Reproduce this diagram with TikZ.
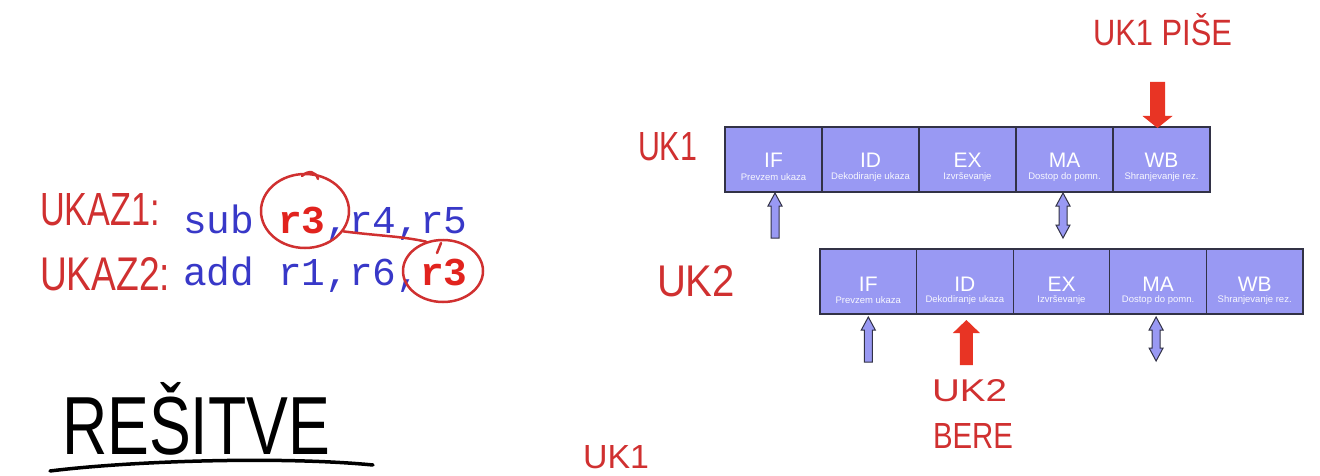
\documentclass[tikz,border=0pt]{standalone}
\usepackage{fontspec}
\setmainfont{Liberation Sans}
\newfontfamily\codefont{Liberation Mono}
\newfontfamily\handfont{Liberation Sans}
\usetikzlibrary{shapes.geometric}
\definecolor{cellblue}{RGB}{153,153,243}
\definecolor{celledge}{RGB}{50,50,70}
\definecolor{inkred}{RGB}{208,48,48}
\definecolor{arrowred}{RGB}{232,52,36}
\definecolor{codeblue}{RGB}{56,56,200}
\definecolor{codered}{RGB}{225,35,30}
\newcommand\handtext[3]{\resizebox{#1}{#2}{\handfont #3}}
\begin{document}
\begin{tikzpicture}[x=1pt,y=-1pt,
  cell/.style={draw=celledge, line width=1.2pt, fill=cellblue, minimum width=97pt, minimum height=65pt, inner sep=0pt, outer sep=0pt},
  stagetitle/.style={text=white, font=\fontsize{21}{21}\selectfont, inner sep=0pt},
  stagesub/.style={text=white!92!cellblue, font=\fontsize{9.5}{10}\selectfont, inner sep=0pt},
  bluearrow/.style={draw=celledge, line width=1pt, fill=cellblue, line join=miter},
  redarrow/.style={fill=arrowred},
  hand/.style={inner sep=0pt, outer sep=0pt, anchor=south west},
  codeline/.style={inner sep=0pt, anchor=base west, text=codeblue, font=\codefont\fontsize{39.5}{40}\selectfont},
  ring/.style={ellipse, draw=inkred, line width=2.5pt, inner sep=0pt},
  ink/.style={draw=inkred, line width=2.5pt, line cap=round, line join=round}]
\useasboundingbox (0,0) rectangle (1320,476);
\fill[white] (0,0) rectangle (1320,476);

% pipeline row 1
\foreach \t/\s [count=\i] in {IF/Prevzem ukaza, ID/Dekodiranje ukaza, EX/Izvrševanje, MA/Dostop do pomn., WB/Shranjevanje rez.}{
  \node[cell] (a\i) at ({773.5+97*(\i-1)},159.5) {};
  \node[stagetitle] at ([yshift=-1pt]a\i.center) {\t};
  \node[stagesub] at ([yshift=-18pt]a\i.center) {\s};
}
% pipeline row 2
\foreach \t/\s [count=\i] in {IF/Prevzem ukaza, ID/Dekodiranje ukaza, EX/Izvrševanje, MA/Dostop do pomn., WB/Shranjevanje rez.}{
  \node[cell, minimum width=96.6pt] (b\i) at ({868.3+96.6*(\i-1)},281.5) {};
  \node[stagetitle] at ([yshift=-3pt]b\i.center) {\t};
  \node[stagesub] at ([yshift=-19pt]b\i.center) {\s};
}

% blue block arrows
\draw[bluearrow, shift={([xshift=1.5pt]a1.south)}] (0,1) -- (7,14) -- (4,14) -- (4,46) -- (-4,46) -- (-4,14) -- (-7,14) -- cycle;
\draw[bluearrow, shift={([xshift=-1.5pt]a4.south)}] (0,1) -- (7,14) -- (4,14) -- (4,33) -- (7,33) -- (0,46) -- (-7,33) -- (-4,33) -- (-4,14) -- (-7,14) -- cycle;
\draw[bluearrow, shift={(b1.south)}] (0,3) -- (7,16) -- (4,16) -- (4,48) -- (-4,48) -- (-4,16) -- (-7,16) -- cycle;
\draw[bluearrow, shift={([xshift=-2pt]b4.south)}] (0,3) -- (7,16) -- (4,16) -- (4,34) -- (7,34) -- (0,47) -- (-7,34) -- (-4,34) -- (-4,16) -- (-7,16) -- cycle;

% red block arrows
\fill[redarrow, shift={([xshift=-4pt]a5.north)}] (0,1) -- (15,-11) -- (7.5,-11) -- (7.5,-45) -- (-7.5,-45) -- (-7.5,-11) -- (-15,-11) -- cycle;
\fill[redarrow, shift={([xshift=1.5pt]b2.south)}] (0,6) -- (13.5,19) -- (6.5,19) -- (6.5,51) -- (-6.5,51) -- (-6.5,19) -- (-13.5,19) -- cycle;

% code
\node[codeline] (l1) at (183,233) {sub {\bfseries\color{codered}r3},r4,r5};
\node[codeline] (l2) at (183,285) {add r1,r6,{\bfseries\color{codered}r3}};

% red rings and link
\node[ring, minimum width=88pt, minimum height=74pt] (c1) at (305,211) {};
\node[ring, minimum width=80pt, minimum height=62pt] (c2) at (443,271) {};
\draw[ink] (c1.-28) .. controls (380,236) and (400,236) .. (c2.120);
\draw[ink] (302,176) .. controls (308,170) and (316,171) .. (318,179);
\draw[ink] (441,243) -- (437,253);

% handwritten labels
\node[hand, text=inkred] (u1) at (40,226) {\handtext{120pt}{32pt}{UKAZ1:}};
\node[hand, text=inkred] (u2) at (40,291) {\handtext{130pt}{33pt}{UKAZ2:}};
\node[hand, text=inkred] (k1) at (638,161) {\handtext{59pt}{28pt}{UK1}};
\node[hand, text=inkred] (k2) at (657,297) {\handtext{78pt}{31pt}{UK2}};
\node[hand, text=inkred] (wr) at (1093,46) {\handtext{139pt}{32pt}{UK1 PIŠE}};
\node[hand, text=inkred] (k3) at (932,402) {\handtext{75pt}{22pt}{UK2}};
\node[hand, text=inkred] (rd) at (933,448) {\handtext{80pt}{25pt}{BERE}};
\node[hand, text=inkred] (k4) at (583,469) {\handtext{66pt}{23pt}{UK1}};
\node[hand, text=black] (sol) at (62,455) {\handtext{268pt}{72pt}{REŠITVE}};
\draw[line width=3.5pt, line cap=round] (50,471) .. controls (130,461) and (280,456) .. (373,465);
\end{tikzpicture}
\end{document}
